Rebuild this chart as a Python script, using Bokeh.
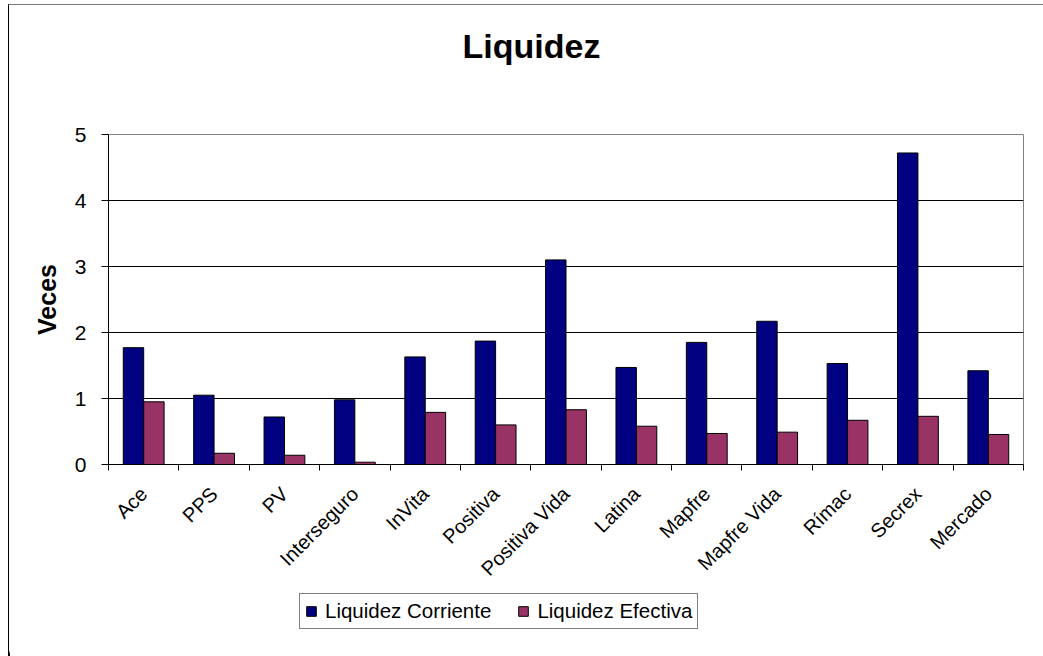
import math
from bokeh.plotting import figure
from bokeh.layouts import column
from bokeh.models import (ColumnDataSource, Range1d, LinearAxis, FixedTicker,
                          Legend, LegendItem, Grid)
from bokeh.core.properties import value
from bokeh.embed import file_html
from bokeh.resources import INLINE

title_text = "Liquidez"
y_title = "Veces"
categories = ["Ace", "PPS", "PV", "Interseguro", "InVita", "Positiva", "Positiva Vida",
              "Latina", "Mapfre", "Mapfre Vida", "Rímac", "Secrex", "Mercado"]
series_names = ["Liquidez Corriente", "Liquidez Efectiva"]
liquidez_corriente = [1.77, 1.05, 0.72, 0.98, 1.63, 1.87, 3.10, 1.47, 1.85, 2.17, 1.53, 4.72, 1.42]
liquidez_efectiva = [0.95, 0.17, 0.14, 0.035, 0.79, 0.60, 0.83, 0.58, 0.47, 0.49, 0.67, 0.73, 0.455]
y_ticks = [0, 1, 2, 3, 4, 5]

FONT = "Liberation Sans"
COLORS = ["#000080", "#993366"]
BAR_W = 0.29
W = 1043 - 9          # content width inside the outer chart border
H0, H1 = 100, 485     # title strip, chart
H2 = 656 - 5 - H0 - H1  # legend strip


def strip(height, x0=0):
    f = figure(width=W, height=height, output_backend="svg", toolbar_location=None,
               x_range=Range1d(x0, x0 + W), y_range=Range1d(0, height),
               x_axis_type=None, y_axis_type=None,
               min_border=0, min_border_left=0, min_border_right=0,
               min_border_top=0, min_border_bottom=0)
    f.outline_line_color = None
    f.xgrid.visible = False
    f.ygrid.visible = False
    f.frame_align = False
    return f


# ---------- title strip ----------
f0 = strip(H0)
f0.text(x=[531 - 9], y=[H0 - 40], text=[title_text], text_font=value(FONT),
        text_font_style="bold", text_font_size="34px", text_color="black",
        text_align="center", text_baseline="alphabetic")

# ---------- chart ----------
idx = list(range(len(categories)))
src = ColumnDataSource(dict(
    xc=[i + 0.5 - BAR_W / 2 for i in idx],
    xe=[i + 0.5 + BAR_W / 2 for i in idx],
    corriente=liquidez_corriente,
    efectiva=liquidez_efectiva,
))

p = figure(width=W, height=H1, output_backend="svg", toolbar_location=None,
           x_range=Range1d(0, len(categories)), y_range=Range1d(0, 5),
           x_axis_type=None, y_axis_type=None,
           min_border_left=108 - 9, min_border_right=20, min_border_top=134 - 5 - H0,
           min_border_bottom=H1 - (464 - 5 - H0))
p.frame_align = False
p.background_fill_color = "white"
p.border_fill_color = "white"
p.outline_line_color = "#808080"
p.outline_line_width = 1
p.xgrid.visible = False
p.ygrid.visible = False

g = Grid(dimension=1, ticker=FixedTicker(ticks=y_ticks[1:]), grid_line_color="black",
         grid_line_width=1)
p.add_layout(g)

p.vbar(x="xc", top="corriente", width=BAR_W, source=src,
       fill_color=COLORS[0], line_color="black", line_width=1)
p.vbar(x="xe", top="efectiva", width=BAR_W, source=src,
       fill_color=COLORS[1], line_color="black", line_width=1)

yax = LinearAxis(ticker=FixedTicker(ticks=y_ticks))
yax.axis_label = y_title
yax.axis_label_text_font = FONT
yax.axis_label_text_font_style = "bold"
yax.axis_label_text_font_size = "25px"
yax.axis_label_text_color = "black"
yax.axis_label_standoff = 11
yax.major_label_text_font = FONT
yax.major_label_text_font_size = "21px"
yax.major_label_text_color = "black"
yax.major_tick_out = 7
yax.major_tick_in = 0
yax.minor_tick_out = 0
yax.minor_tick_in = 0
yax.major_label_standoff = 15
yax.axis_line_color = "black"
p.add_layout(yax, "left")

xax = LinearAxis(ticker=FixedTicker(ticks=[i + 0.5 for i in idx],
                                    minor_ticks=list(range(len(categories) + 1))))
xax.major_label_overrides = {i + 0.5: c for i, c in zip(idx, categories)}
xax.major_label_orientation = math.pi / 4
xax.major_label_text_font = FONT
xax.major_label_text_font_size = "20px"
xax.major_label_text_color = "black"
xax.major_tick_out = 0
xax.major_tick_in = 0
xax.minor_tick_out = 6
xax.minor_tick_in = 0
xax.minor_tick_line_color = "black"
xax.major_label_standoff = 20
xax.axis_line_color = "black"
p.add_layout(xax, "below")

# ---------- legend strip ----------
# x range starts beyond the data so the swatch renderers stay out of view
f2 = strip(H2, x0=100)
lr = [f2.vbar(x=xcol, top=ycol, width=BAR_W, source=src, fill_color=c,
              line_color="black", line_width=1)
      for xcol, ycol, c in zip(["xc", "xe"], ["corriente", "efectiva"], COLORS)]
legend = Legend(items=[LegendItem(label=n, renderers=[r]) for n, r in zip(series_names, lr)],
                orientation="horizontal", location=(299 - 9, 656 - 629),
                label_text_font=FONT, label_text_font_size="20.5px",
                label_text_color="black",
                glyph_width=12, glyph_height=12, label_standoff=8, spacing=26,
                padding=5, margin=0, label_height=20,
                border_line_color="black", border_line_width=1,
                background_fill_color="white", background_fill_alpha=1)
f2.add_layout(legend, "center")

layout = column(f0, p, f2, spacing=0,
                styles={"margin-left": "8px", "margin-top": "4px",
                        "border-left": "1px solid black",
                        "border-top": "1px solid #777777"})

open("out.html", "w").write(file_html(layout, INLINE))
